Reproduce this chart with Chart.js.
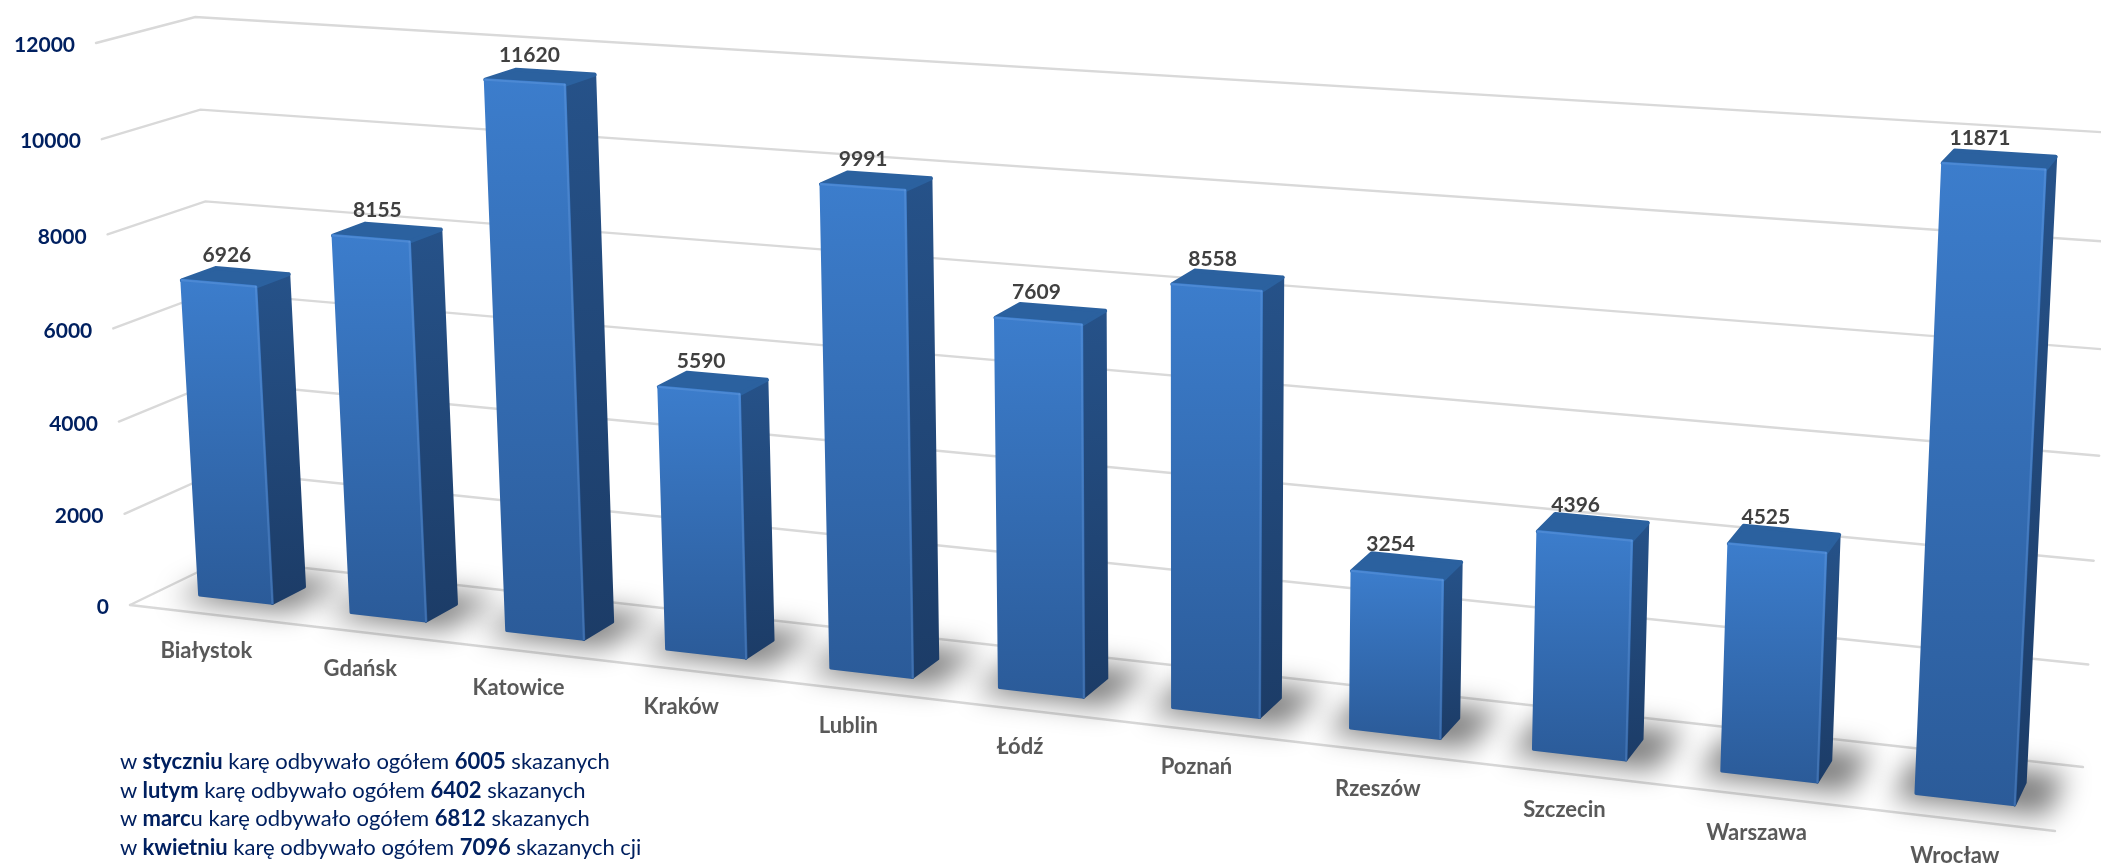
<!DOCTYPE html>
<html lang="pl">
<head>
<meta charset="utf-8">
<title>Skazani</title>
<script src="https://cdn.jsdelivr.net/npm/chart.js@4"></script>
<style>
  html, body { margin: 0; padding: 0; background: #fff; overflow: hidden; }
  #wrap { position: relative; width: 2101px; height: 866px; }
  #note { position: absolute; left: 120px; top: 747px; font: 22px/28.7px Lato, sans-serif; color: #002060; white-space: nowrap; }
  #note b { font-weight: 700; }
</style>
</head>
<body>
<div id="wrap">
  <canvas id="myChart" width="2101" height="866"></canvas>
  <div id="note">
    w <b>styczniu</b> karę odbywało ogółem <b>6005</b> skazanych<br>
    w <b>lutym</b> karę odbywało ogółem <b>6402</b> skazanych<br>
    w <b>marc</b>u karę odbywało ogółem <b>6812</b> skazanych<br>
    w <b>kwietniu</b> karę odbywało ogółem <b>7096</b> skazanych cji
  </div>
</div>
<script>
var cities = ["Białystok", "Gdańsk", "Katowice", "Kraków", "Lublin", "Łódź", "Poznań", "Rzeszów", "Szczecin", "Warszawa", "Wrocław"];
var prisoners = [6926, 8155, 11620, 5590, 9991, 7609, 8558, 3254, 4396, 4525, 11871];
var yMax = 12000;
var yStep = 2000;

// corners of the 3D box on the page: floor front-left, floor front-right, floor back-left, floor back-right, top front-left
var boxO = [130, 605, 1];
var boxX = [2055, 831, 1];
var boxZ = [225, 559, 1];
var boxB = [2083, 767, 1];
var boxY = [96, 43, 1];
var boxTopBackRightX = 2116;
var barDepthFront = 0.31;
var barDepthBack = 0.66;

function det3(a, b, c) {
    return a[0] * (b[1] * c[2] - b[2] * c[1]) - b[0] * (a[1] * c[2] - a[2] * c[1]) + c[0] * (a[1] * b[2] - a[2] * b[1]);
}

// weights of the projective frame, floor first and then the height axis
var negB = [-boxB[0], -boxB[1], -boxB[2]];
var d = det3(boxX, boxZ, negB);
var alpha = det3(boxO, boxZ, negB) / d;
var gamma = det3(boxX, boxO, negB) / d;
var A = [0, 1, 2].map(function(i) { return alpha * boxX[i] + gamma * boxZ[i] - 2 * boxO[i]; });
var beta = (A[0] - boxTopBackRightX * A[2]) / (boxTopBackRightX - boxY[0]);
var colU = [0, 1, 2].map(function(i) { return alpha * boxX[i] - boxO[i]; });
var colV = [0, 1, 2].map(function(i) { return beta * boxY[i] - boxO[i]; });
var colW = [0, 1, 2].map(function(i) { return gamma * boxZ[i] - boxO[i]; });

// u along the categories, v up the value axis, w into the depth (all 0..1)
function project(u, v, w) {
    var h = [0, 1, 2].map(function(i) { return boxO[i] + u * colU[i] + v * colV[i] + w * colW[i]; });
    return { x: h[0] / h[2], y: h[1] / h[2] };
}

// the picture's bars sit a little right of a pure perspective
function shiftU(u) {
    return u + 0.0006 + 0.0042 * Math.sin(Math.PI * u);
}

function poly(ctx, pts) {
    ctx.beginPath();
    pts.forEach(function(p, i) {
        if (i == 0) ctx.moveTo(p.x, p.y); else ctx.lineTo(p.x, p.y);
    });
    ctx.closePath();
}

function fillFace(ctx, pts, fill, width) {
    poly(ctx, pts);
    ctx.fillStyle = fill;
    ctx.strokeStyle = fill;
    ctx.lineWidth = width;
    ctx.lineJoin = "round";
    ctx.fill();
    ctx.stroke();
}

function vGradient(ctx, yTop, yBottom, c1, c2) {
    var g = ctx.createLinearGradient(0, yTop, 0, yBottom);
    g.addColorStop(0, c1);
    g.addColorStop(1, c2);
    return g;
}

function drawLine(ctx, pts, color, width) {
    ctx.beginPath();
    pts.forEach(function(p, i) {
        if (i == 0) ctx.moveTo(p.x, p.y); else ctx.lineTo(p.x, p.y);
    });
    ctx.strokeStyle = color;
    ctx.lineWidth = width;
    ctx.lineJoin = "miter";
    ctx.lineCap = "round";
    ctx.stroke();
}

var perspectiveBars = {
    id: "perspectiveBars",
    beforeDatasetsDraw: function(chart) {
        var ctx = chart.ctx;
        var area = chart.chartArea;
        var yScale = chart.scales.y;
        var bars = chart.getDatasetMeta(0).data;

        // bars through the chart's own scales, mapped to 0..1 and then projected
        var boxes = bars.map(function(bar) {
            var uc = (bar.x - area.left) / area.width;
            var half = bar.width / 2 / area.width;
            return {
                u0: shiftU(uc) - half,
                u1: shiftU(uc) + half,
                uc: shiftU(uc),
                // bevel takes a bit off the height
                v: (area.bottom - bar.y) / area.height - 0.005 - 0.007 * uc
            };
        });

        ctx.save();

        // grid on the side wall and back wall
        yScale.ticks.forEach(function(tick) {
            var v = (area.bottom - yScale.getPixelForValue(tick.value)) / area.height;
            drawLine(ctx, [project(0, v, 0), project(0, v, 1), project(1, v, 1)], "#d9d9d9", 2.4);
        });
        drawLine(ctx, [project(0, 0, 0), project(1, 0, 0)], "#d9d9d9", 2.4);

        // soft shadow on the floor
        ctx.save();
        ctx.filter = "blur(14px)";
        ctx.fillStyle = "rgba(0,0,0,0.5)";
        boxes.forEach(function(b) {
            var w = b.u1 - b.u0;
            poly(ctx, [project(b.u0 - w * 0.2, 0, 0.2), project(b.u1 + w * 0.36, 0, 0.2), project(b.u1 + w * 0.36, 0, 0.86), project(b.u0 - w * 0.2, 0, 0.86)]);
            ctx.fill();
        });
        ctx.restore();

        boxes.forEach(function(b) {
            var fbl = project(b.u0, 0, barDepthFront), fbr = project(b.u1, 0, barDepthFront);
            var ftl = project(b.u0, b.v, barDepthFront), ftr = project(b.u1, b.v, barDepthFront);
            var bbr = project(b.u1, 0, barDepthBack), btr = project(b.u1, b.v, barDepthBack);
            var btl = project(b.u0, b.v, barDepthBack);

            fillFace(ctx, [fbr, ftr, btr, bbr], vGradient(ctx, btr.y, fbr.y, "#265289", "#1c3c67"), 3);
            fillFace(ctx, [ftl, ftr, btr, btl], "#2b619f", 4);
            fillFace(ctx, [fbl, fbr, ftr, ftl], vGradient(ctx, ftl.y, fbr.y, "#3c7dcc", "#2b5b99"), 3);

            // bevel highlights
            drawLine(ctx, [fbr, ftr], "rgba(120,170,235,0.28)", 2);
            drawLine(ctx, [ftl, ftr], "rgba(120,170,235,0.28)", 2);
        });

        // axis labels
        ctx.textAlign = "right";
        ctx.textBaseline = "middle";
        ctx.font = "bold 21px Lato";
        ctx.fillStyle = "#002060";
        yScale.ticks.forEach(function(tick) {
            var v = (area.bottom - yScale.getPixelForValue(tick.value)) / area.height;
            var p = project(0, v, 0);
            ctx.fillText(String(tick.value), p.x - 21, p.y + 2.5);
        });

        ctx.textAlign = "center";
        ctx.font = "bold 22px Lato";
        ctx.fillStyle = "#595959";
        boxes.forEach(function(b, i) {
            var p = project(b.uc, 0, 0);
            ctx.fillText(chart.scales.x.getLabelForValue(i), p.x, p.y + 37);
        });

        // value labels
        ctx.font = "bold 21px Lato";
        ctx.fillStyle = "#404040";
        boxes.forEach(function(b, i) {
            var p = project(b.uc, b.v, (barDepthFront + barDepthBack) / 2);
            ctx.fillText(String(chart.data.datasets[0].data[i]), p.x - 8 - 12 * b.uc, p.y - 22);
        });

        ctx.restore();
        return false;
    }
};

new Chart("myChart", {
    type: "bar",
    data: {
        labels: cities,
        datasets: [{ label: "Skazani", data: prisoners, backgroundColor: "#3c7dcc", categoryPercentage: 1, barPercentage: 0.49 }]
    },
    options: {
        responsive: false,
        animation: false,
        events: [],
        layout: { padding: 0 },
        plugins: { legend: { display: false }, tooltip: { enabled: false } },
        scales: {
            x: { display: false },
            y: { display: false, min: 0, max: yMax, ticks: { stepSize: yStep } }
        }
    },
    plugins: [perspectiveBars]
});
</script>
</body>
</html>
